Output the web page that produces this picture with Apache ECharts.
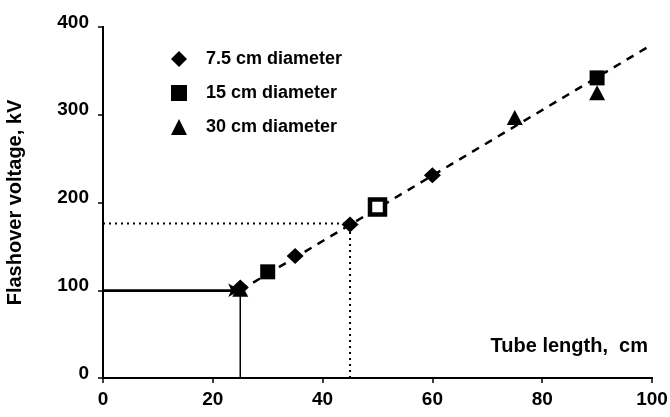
<!DOCTYPE html>
<html>
<head>
<meta charset="utf-8">
<script src="https://cdn.jsdelivr.net/npm/echarts@6/dist/echarts.min.js"></script>
<style>html,body{margin:0;padding:0;background:#fff}#c{width:670px;height:417px}</style>
</head>
<body>
<div id="c"></div>
<script>
// Data: [tube length cm, flashover voltage kV]
var d75 = [[25, 103], [35, 139], [45, 175], [60, 231]];
var d15 = [[30, 121], [50, 195], [90, 342]];
var d30 = [[25, 101], [75, 297], [90, 325]];
var fitLine = [[25, 100], [100, 380]];
var guideSolidH = [[0, 100], [25, 100]];
var guideSolidV = [[25, 0], [25, 100]];
var guideDotH = [[0, 176], [45, 176]];
var guideDotV = [[45, 0], [45, 176]];
var xTicks = [0, 20, 40, 60, 80, 100];
var yTicks = [0, 100, 200, 300, 400];

var FONT = '"Liberation Sans", Arial, sans-serif';
var chart = echarts.init(document.getElementById('c'));

function axisBase(ticks, inside) {
  return {
    type: 'value', min: ticks[0], max: ticks[ticks.length - 1], interval: ticks[1] - ticks[0],
    axisLine: {show: true, lineStyle: {color: '#000', width: 2}},
    axisTick: {show: true, inside: inside, length: 5, lineStyle: {color: '#000', width: 1.5}},
    splitLine: {show: false}
  };
}

var xMain = axisBase(xTicks, false);
xMain.axisLabel = {color: '#000', fontFamily: FONT, fontWeight: 'bold', fontSize: 19, margin: 12};
xMain.name = 'Tube length,  cm';
xMain.nameLocation = 'end';
xMain.nameGap = -4;
xMain.nameTextStyle = {color: '#000', fontFamily: FONT, fontWeight: 'bold', fontSize: 20, align: 'right', verticalAlign: 'bottom', padding: [0, 0, 22, 0]};
var xIn = axisBase(xTicks, true);
xIn.axisLabel = {show: false};

var yMain = axisBase(yTicks, false);
yMain.axisLabel = {color: '#000', fontFamily: FONT, fontWeight: 'bold', fontSize: 19, margin: 14, verticalAlign: 'bottom', padding: [0, 0, -5, 0]};
yMain.name = 'Flashover voltage, kV';
yMain.nameLocation = 'middle';
yMain.nameGap = 78;
yMain.nameTextStyle = {color: '#000', fontFamily: FONT, fontWeight: 'bold', fontSize: 20};
var yIn = axisBase(yTicks, true);
yIn.axisLabel = {show: false};

function guide(data, type, width) {
  return {type: 'line', data: data, symbol: 'none', silent: true, z: 1,
    lineStyle: {color: '#000', width: width, type: type}};
}

var option = {
  animation: false,
  backgroundColor: '#fff',
  grid: {left: 103, top: 27, width: 549, height: 351, containLabel: false, outerBoundsMode: 'none'},
  legend: {
    orient: 'vertical', left: 166, top: 45, itemGap: 16, itemWidth: 16, itemHeight: 16,
    textStyle: {color: '#000', fontFamily: FONT, fontWeight: 'bold', fontSize: 18, padding: [0, 0, 0, 14]},
    data: ['7.5 cm diameter', '15 cm diameter', '30 cm diameter']
  },
  xAxis: [xMain, xIn],
  yAxis: [yMain, yIn],
  series: [
    {type: 'line', data: fitLine, symbol: 'none', z: 2,
      lineStyle: {color: '#000', width: 2.5, type: [8, 7]}},
    {type: 'line', data: guideSolidH, symbol: 'none', z: 1,
      lineStyle: {color: '#000', width: 2, type: 'solid'},
      markLine: {silent: true, symbol: ['none', 'arrow'], symbolSize: [10, 12], label: {show: false},
        lineStyle: {color: '#000', width: 2, type: 'solid'},
        data: [[{coord: guideSolidH[0]}, {coord: guideSolidH[1]}]]}},
    guide(guideSolidV, 'solid', 1.5),
    guide(guideDotH, [2, 4], 2),
    guide(guideDotV, [2, 4], 2),
    {name: '7.5 cm diameter', type: 'scatter', symbol: 'diamond', symbolSize: [17, 16], data: d75, z: 5,
      itemStyle: {color: '#000', opacity: 1}},
    {name: '15 cm diameter', type: 'scatter', symbol: 'rect', symbolSize: 15, z: 5,
      data: [d15[0], {value: d15[1], itemStyle: {color: '#fff', borderColor: '#000', borderWidth: 4.5}}, d15[2]],
      itemStyle: {color: '#000', opacity: 1}},
    {name: '30 cm diameter', type: 'scatter', symbol: 'triangle', symbolSize: [16, 15], data: d30, z: 5,
      itemStyle: {color: '#000', opacity: 1}}
  ]
};
chart.setOption(option);
</script>
</body>
</html>
